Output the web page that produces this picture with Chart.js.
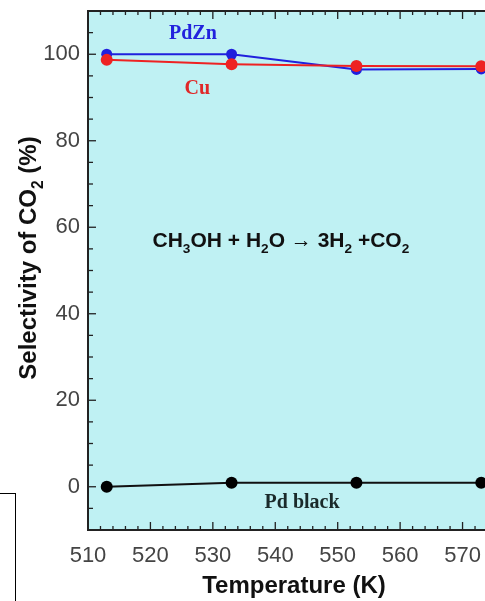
<!DOCTYPE html>
<html>
<head>
<meta charset="utf-8">
<script src="https://cdn.jsdelivr.net/npm/chart.js@4.4.1/dist/chart.umd.min.js"></script>
<style>
html, body { margin: 0; padding: 0; background: #fff; overflow: hidden; width: 485px; height: 601px; }
#wrap { position: relative; width: 485px; height: 601px; overflow: hidden; }
#myChart { position: absolute; left: 0; top: 0; }
#box { position: absolute; left: -3px; top: 493px; width: 17px; height: 120px; border: 1.5px solid #000; }
</style>
</head>
<body>
<div id="wrap"><canvas id="myChart" width="520" height="601"></canvas><div id="box"></div></div>
<script>
// values
var temps = [513, 533, 553, 573];
var pdznSel = [100, 100, 96.5, 96.6];
var cuSel = [98.7, 97.7, 97.3, 97.2];
var pdBlackSel = [0, 0.9, 0.9, 0.9];
var xTicks = [510, 520, 530, 540, 550, 560, 570];
var yTicks = [0, 20, 40, 60, 80, 100];

var sans = "'Liberation Sans', Arial, sans-serif";
var serif = "'Liberation Serif', 'Times New Roman', serif";

function pts(ys) {
    var out = [];
    for (var i = 0; i < temps.length; i++) {
        out.push({x: temps[i], y: ys[i]});
    }
    return out;
}

// text with subscripts, centred on x
function drawRich(ctx, parts, x, y, size) {
    var w = 0;
    parts.forEach(function(p) {
        ctx.font = 'bold ' + (p.sub ? size * 0.65 : size) + 'px ' + sans;
        p.w = ctx.measureText(p.t).width;
        w += p.w;
    });
    var cx = x - w / 2;
    ctx.textAlign = 'left';
    ctx.textBaseline = 'alphabetic';
    parts.forEach(function(p) {
        ctx.font = 'bold ' + (p.sub ? size * 0.65 : size) + 'px ' + sans;
        ctx.fillText(p.t, cx, y + (p.sub ? size * 0.28 : 0));
        cx += p.w;
    });
}

var frame = {
    id: 'frame',
    beforeDraw: function(chart) {
        var a = chart.chartArea, ctx = chart.ctx;
        ctx.save();
        ctx.fillStyle = '#bff1f3';
        ctx.fillRect(a.left, a.top, a.right - a.left, a.bottom - a.top);
        ctx.restore();
    },
    beforeDatasetsDraw: function(chart) {
        var a = chart.chartArea, ctx = chart.ctx;
        var xs = chart.scales.x, ys = chart.scales.y;
        ctx.save();
        ctx.strokeStyle = '#222';
        ctx.lineWidth = 1.3;
        var v, px;
        for (v = 510; v <= 576; v += 2) {
            px = xs.getPixelForValue(v);
            var len = (v % 10 === 0) ? 8 : 4;
            ctx.beginPath();
            ctx.moveTo(px, a.top); ctx.lineTo(px, a.top + len);
            ctx.moveTo(px, a.bottom); ctx.lineTo(px, a.bottom - len);
            ctx.stroke();
        }
        for (v = -5; v <= 105; v += 5) {
            px = ys.getPixelForValue(v);
            var l2 = (v % 20 === 0) ? 8 : 5;
            ctx.beginPath();
            ctx.moveTo(a.left, px); ctx.lineTo(a.left + l2, px);
            ctx.stroke();
        }
        ctx.lineWidth = 2;
        ctx.beginPath();
        ctx.moveTo(a.right + 5, a.top);
        ctx.lineTo(a.left, a.top);
        ctx.lineTo(a.left, a.bottom);
        ctx.lineTo(a.right + 5, a.bottom);
        ctx.stroke();

        // y axis title with subscript
        ctx.translate(27, 258);
        ctx.rotate(-Math.PI / 2);
        ctx.fillStyle = '#111';
        drawRich(ctx, [{t: 'Selectivity of CO'}, {t: '2', sub: true}, {t: ' (%)'}], 0, 9, 24);
        ctx.restore();
    },
    afterDatasetsDraw: function(chart) {
        var ctx = chart.ctx;
        var xs = chart.scales.x, ys = chart.scales.y;
        ctx.save();
        ctx.textAlign = 'center';
        ctx.textBaseline = 'middle';
        ctx.font = 'bold 20px ' + serif;
        ctx.fillStyle = '#2222dd';
        ctx.fillText('PdZn', xs.getPixelForValue(526.8), ys.getPixelForValue(104.8));
        ctx.fillStyle = '#e02828';
        ctx.fillText('Cu', xs.getPixelForValue(527.5), ys.getPixelForValue(92));
        ctx.fillStyle = '#1a2a2a';
        ctx.fillText('Pd black', xs.getPixelForValue(544.3), ys.getPixelForValue(-3.8));
        ctx.fillStyle = '#111';
        drawRich(ctx, [
            {t: 'CH'}, {t: '3', sub: true}, {t: 'OH + H'}, {t: '2', sub: true},
            {t: 'O \u2192 3H'}, {t: '2', sub: true}, {t: ' +CO'}, {t: '2', sub: true}
        ], xs.getPixelForValue(540.9), ys.getPixelForValue(57) + 7, 21);
        ctx.restore();
    }
};

var ctx = document.getElementById('myChart');
var myChart = new Chart(ctx, {
    type: 'line',
    data: {
        datasets: [
            {label: 'Cu', data: pts(cuSel), borderColor: '#ee2222', backgroundColor: '#ee2222',
             borderWidth: 2, pointRadius: 6, pointBorderWidth: 0},
            {label: 'PdZn', data: pts(pdznSel), borderColor: '#2020dd', backgroundColor: '#2020dd',
             borderWidth: 2, pointRadius: 5.5, pointBorderWidth: 0},
            {label: 'Pd black', data: pts(pdBlackSel), borderColor: '#111', backgroundColor: '#000',
             borderWidth: 2, pointRadius: 6, pointBorderWidth: 0}
        ]
    },
    plugins: [frame],
    options: {
        responsive: false,
        animation: false,
        layout: {padding: {top: 11, right: 20, left: 0, bottom: 0}},
        plugins: {legend: {display: false}, tooltip: {enabled: false}},
        scales: {
            x: {
                type: 'linear', min: 510, max: 576,
                afterBuildTicks: function(s) { s.ticks = xTicks.map(function(v) { return {value: v}; }); },
                afterFit: function(s) { s.height = 71; s.paddingLeft = 0; s.paddingRight = 0; },
                grid: {display: false, drawTicks: false},
                border: {display: false},
                ticks: {padding: 13, color: '#444', font: {size: 22, family: sans}, maxRotation: 0, autoSkip: false},
                title: {display: true, text: 'Temperature (K)', color: '#111',
                        font: {size: 24, weight: 'bold', family: sans}, padding: {top: 3, bottom: 0}}
            },
            y: {
                min: -10, max: 110,
                afterBuildTicks: function(s) { s.ticks = yTicks.map(function(v) { return {value: v}; }); },
                afterFit: function(s) { s.width = 88; s.paddingTop = 0; s.paddingBottom = 0; },
                grid: {display: false, drawTicks: false},
                border: {display: false},
                ticks: {padding: 8, color: '#444', font: {size: 22, family: sans}}
            }
        }
    }
});
</script>
</body>
</html>
